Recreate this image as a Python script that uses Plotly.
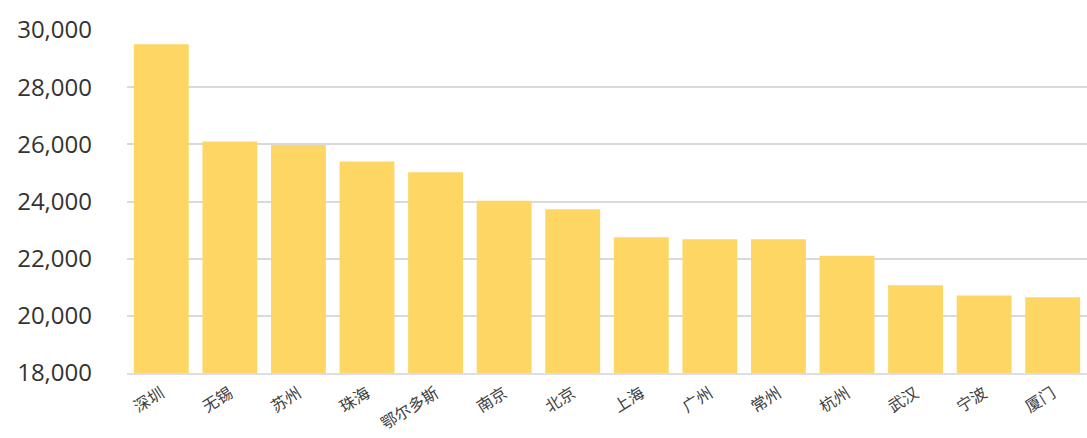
import plotly.graph_objects as go

cities = ["深圳", "无锡", "苏州", "珠海", "鄂尔多斯", "南京", "北京", "上海", "广州", "常州", "杭州", "武汉", "宁波", "厦门"]
values = [29500, 26100, 25980, 25400, 25020, 24030, 23730, 22750, 22680, 22680, 22100, 21070, 20710, 20650]
y_ticks = [18000, 20000, 22000, 24000, 26000, 28000, 30000]

fig = go.Figure(go.Bar(
    x=cities, y=values,
    marker=dict(color="#FDD663", line=dict(width=0)),
))

fig.update_layout(
    width=1087, height=438,
    margin=dict(l=127, r=0, t=30, b=65),
    paper_bgcolor="white", plot_bgcolor="white",
    bargap=0.2,
    showlegend=False,
    font=dict(family="Open Sans, Noto Sans CJK SC", color="#404040"),
)
fig.update_yaxes(
    range=[18000, 30000], tickvals=y_ticks, tickformat=",",
    showgrid=True, gridcolor="#D9D9D9", gridwidth=2,
    zeroline=False, showline=False, automargin=False,
    tickfont=dict(size=24, family="Open Sans", color="#333333"),
    ticklabelstandoff=34,
)
fig.update_xaxes(
    tickangle=-32, automargin=False,
    tickfont=dict(size=16, family="Noto Sans CJK SC", color="#404040"),
    showline=True, linecolor="#DCDCEC", linewidth=2,
    showgrid=False, ticklabelstandoff=3,
)

fig.write_html(
    "out.html",
    config={"displayModeBar": False},
    post_script="document.body.style.margin='0';document.body.style.overflow='hidden';",
)
